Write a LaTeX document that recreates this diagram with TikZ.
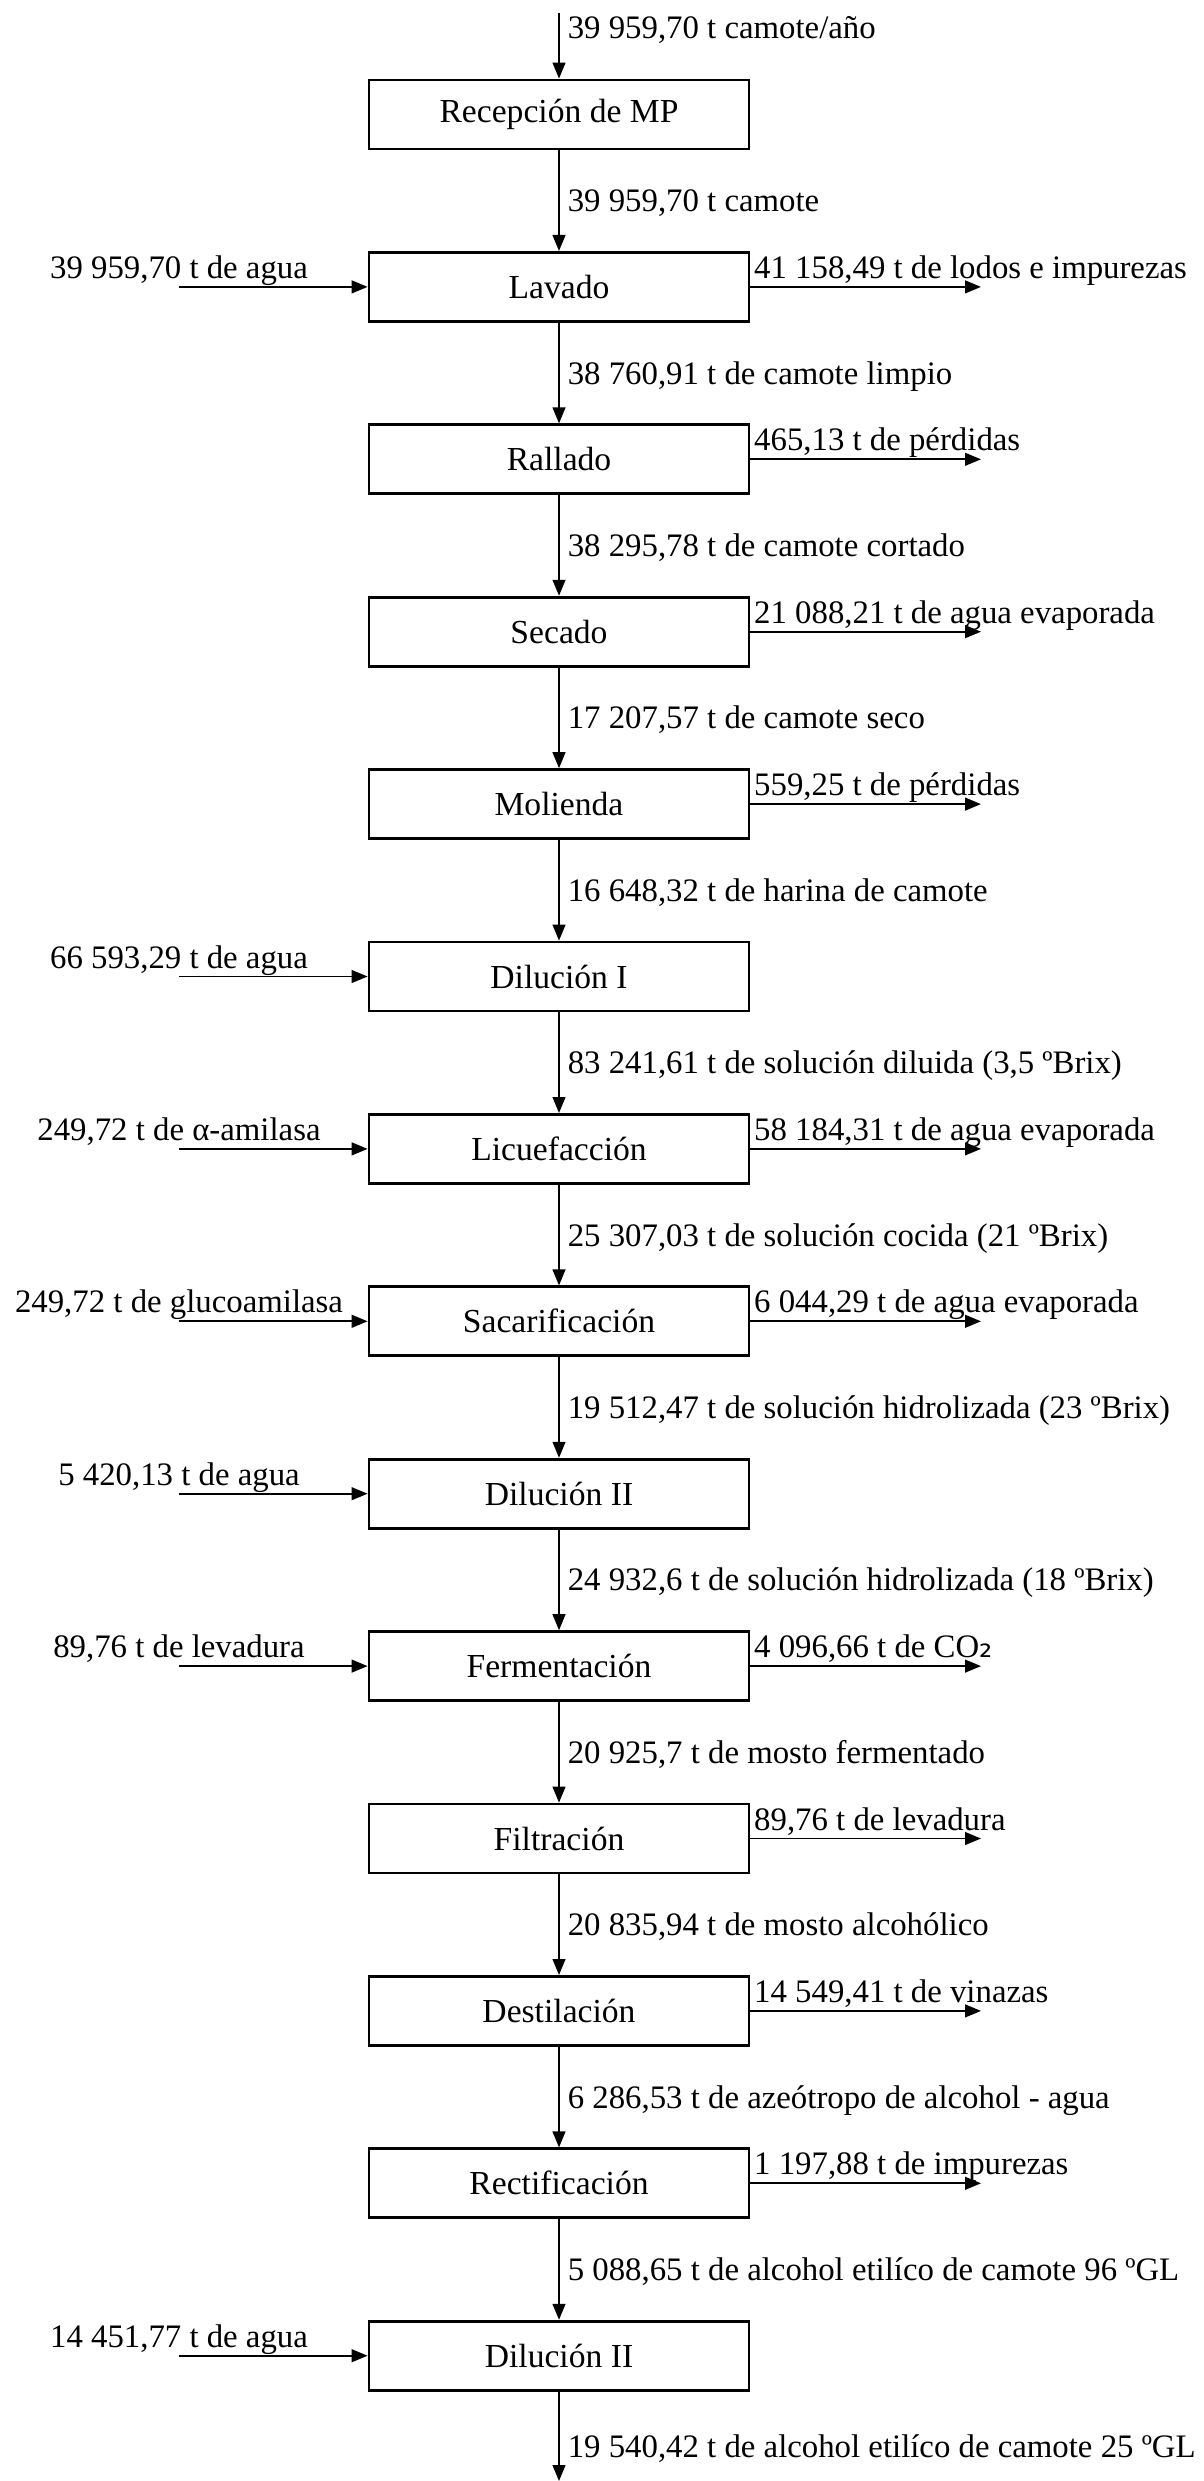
\documentclass[tikz,border=0pt]{standalone}
\usepackage{fontspec}
\setmainfont{Liberation Serif}
\newfontfamily\dvsans{DejaVu Sans}
\usetikzlibrary{arrows.meta}
\begin{document}
\begin{tikzpicture}[x=0.25pt,y=-0.25pt,
  procbox/.style={draw=black,line width=0.7pt,minimum width=95pt,minimum height=17.25pt,inner sep=0pt,font=\fontsize{8.4}{10}\selectfont},
  flow/.style={line width=0.45pt,-{Triangle[length=4pt,width=3.2pt]}},
  lbl/.style={inner sep=0pt,font=\fontsize{8.2}{9.5}\selectfont},
  vlbl/.style={lbl,anchor=base west},
  llbl/.style={lbl,anchor=base},
  rlbl/.style={lbl,anchor=base west}]
\useasboundingbox (0,0) rectangle (1203,2481);
% boxes
\node[procbox] (b0) at (559,114.5) {Recepción de MP};
\node[procbox] (b1) at (559,286.9) {Lavado};
\node[procbox] (b2) at (559,459.3) {Rallado};
\node[procbox] (b3) at (559,631.7) {Secado};
\node[procbox] (b4) at (559,804.1) {Molienda};
\node[procbox] (b5) at (559,976.5) {Dilución I};
\node[procbox] (b6) at (559,1148.9) {Licuefacción};
\node[procbox] (b7) at (559,1321.3) {Sacarificación};
\node[procbox] (b8) at (559,1493.7) {Dilución II};
\node[procbox] (b9) at (559,1666.1) {Fermentación};
\node[procbox] (b10) at (559,1838.5) {Filtración};
\node[procbox] (b11) at (559,2010.9) {Destilación};
\node[procbox] (b12) at (559,2183.3) {Rectificación};
\node[procbox] (b13) at (559,2355.7) {Dilución II};
% main flow
\coordinate (top) at (559,12.7);
\coordinate (bot) at (559,2481);
\draw[flow] (top) -- (b0.north);
\foreach \a/\b in {0/1,1/2,2/3,3/4,4/5,5/6,6/7,7/8,8/9,9/10,10/11,11/12,12/13}
  \draw[flow] (b\a.south) -- (b\b.north);
\draw[flow] (b13.south) -- (bot);
% vertical labels
\node[vlbl] (v0) at (567,39) {39 959,70 t camote/año};
\node[vlbl] (v1) at (567,211.7) {39 959,70 t camote};
\node[vlbl] (v2) at (567,384.1) {38 760,91 t de camote limpio};
\node[vlbl] (v3) at (567,556.5) {38 295,78 t de camote cortado};
\node[vlbl] (v4) at (567,728.9) {17 207,57 t de camote seco};
\node[vlbl] (v5) at (567,901.3) {16 648,32 t de harina de camote};
\node[vlbl] (v6) at (567,1073.7) {83 241,61 t de solución diluida (3,5 ºBrix)};
\node[vlbl] (v7) at (567,1246.1) {25 307,03 t de solución cocida (21 ºBrix)};
\node[vlbl] (v8) at (567,1418.5) {19 512,47 t de solución hidrolizada (23 ºBrix)};
\node[vlbl] (v9) at (567,1590.9) {24 932,6 t de solución hidrolizada (18 ºBrix)};
\node[vlbl] (v10) at (567,1763.3) {20 925,7 t de mosto fermentado};
\node[vlbl] (v11) at (567,1935.7) {20 835,94 t de mosto alcohólico};
\node[vlbl] (v12) at (567,2108.1) {6 286,53 t de azeótropo de alcohol - agua};
\node[vlbl] (v13) at (567,2280.5) {5 088,65 t de alcohol etilíco de camote 96 ºGL};
\node[vlbl] (v14) at (567,2457) {19 540,42 t de alcohol etilíco de camote 25 ºGL};
% left inputs
\foreach \i/\t in {1/{39 959,70 t de agua},5/{66 593,29 t de agua},6/{249,72 t de α-amilasa},7/{249,72 t de glucoamilasa},8/{5 420,13 t de agua},9/{89,76 t de levadura},13/{14 451,77 t de agua}}{
  \coordinate (in\i) at (179,0 |- b\i.west);
  \path (in\i) ++(0,-8.5) node[llbl] (li\i) {\t};
  \draw[flow] (in\i) -- (b\i.west);
}
% right outputs
\foreach \i/\t in {1/{41 158,49 t de lodos e impurezas},2/{465,13 t de pérdidas},3/{21 088,21 t de agua evaporada},4/{559,25 t de pérdidas},6/{58 184,31 t de agua evaporada},7/{6 044,29 t de agua evaporada},9/{4 096,66 t de CO{\dvsans ₂}},10/{89,76 t de levadura},11/{14 549,41 t de vinazas},12/{1 197,88 t de impurezas}}{
  \coordinate (out\i) at (981,0 |- b\i.east);
  \path (b\i.east) ++(3,-8.5) node[rlbl] (ro\i) {\t};
  \draw[flow] (b\i.east) -- (out\i);
}
\end{tikzpicture}
\end{document}
